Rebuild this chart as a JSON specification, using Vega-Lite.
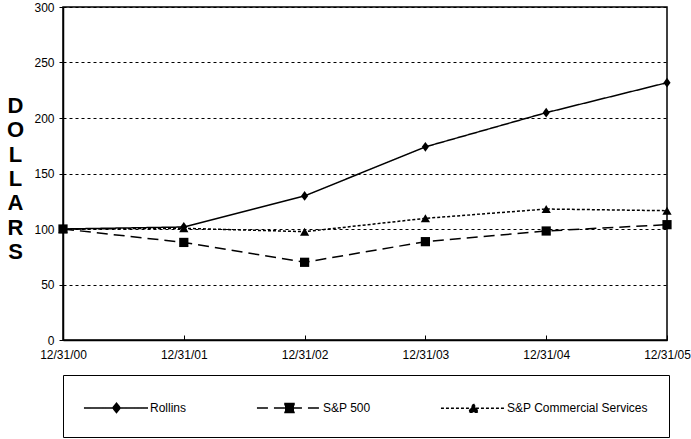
{
  "$schema": "https://vega.github.io/schema/vega-lite/v6.json",
  "width": 604,
  "height": 333,
  "autosize": "none",
  "padding": {"left": 63, "top": 7, "right": 24, "bottom": 99},
  "background": "white",
  "config": {
    "font": "Liberation Sans",
    "view": {"stroke": "black", "strokeWidth": 1.5},
    "axis": {
      "labelFont": "Liberation Sans",
      "labelFontSize": 12,
      "labelColor": "black",
      "domainColor": "black",
      "domainWidth": 1.5,
      "tickColor": "black",
      "tickWidth": 1
    }
  },
  "data": {
    "values": [
      {"date": "12/31/00", "series": "Rollins", "value": 100},
      {"date": "12/31/01", "series": "Rollins", "value": 101.8},
      {"date": "12/31/02", "series": "Rollins", "value": 129.8},
      {"date": "12/31/03", "series": "Rollins", "value": 174},
      {"date": "12/31/04", "series": "Rollins", "value": 204.8},
      {"date": "12/31/05", "series": "Rollins", "value": 231.8},
      {"date": "12/31/00", "series": "S&P 500", "value": 100},
      {"date": "12/31/01", "series": "S&P 500", "value": 87.9},
      {"date": "12/31/02", "series": "S&P 500", "value": 70},
      {"date": "12/31/03", "series": "S&P 500", "value": 88.6},
      {"date": "12/31/04", "series": "S&P 500", "value": 98.2},
      {"date": "12/31/05", "series": "S&P 500", "value": 103.9},
      {"date": "12/31/00", "series": "S&P Commercial Services", "value": 100},
      {"date": "12/31/01", "series": "S&P Commercial Services", "value": 100.6},
      {"date": "12/31/02", "series": "S&P Commercial Services", "value": 97.6},
      {"date": "12/31/03", "series": "S&P Commercial Services", "value": 109.6},
      {"date": "12/31/04", "series": "S&P Commercial Services", "value": 118},
      {"date": "12/31/05", "series": "S&P Commercial Services", "value": 116.5}
    ]
  },
  "encoding": {
    "x": {
      "field": "date",
      "type": "ordinal",
      "sort": null,
      "scale": {"type": "point", "padding": 0},
      "axis": {"title": null, "labelAngle": 0, "grid": false, "tickSize": -5, "labelPadding": 14}
    },
    "y": {
      "field": "value",
      "type": "quantitative",
      "scale": {"domain": [0, 300], "nice": false},
      "axis": {
        "values": [0, 50, 100, 150, 200, 250, 300],
        "tickSize": 4,
        "labelPadding": 5,
        "grid": true,
        "gridColor": "black",
        "gridDash": [3, 3],
        "gridWidth": 1,
        "gridOpacity": 1,
        "title": ["D", "O", "L", "L", "A", "R", "S"],
        "titleAngle": 0,
        "titleFont": "Liberation Sans",
        "titleFontSize": 22,
        "titleFontWeight": "bold",
        "titleColor": "black",
        "titleLineHeight": 24.3,
        "titleAlign": "center",
        "titleBaseline": "middle",
        "titleX": -48,
        "titleY": 98.5
      }
    }
  },
  "layer": [
    {
      "mark": {"type": "line", "color": "black", "strokeWidth": 1.5},
      "encoding": {
        "strokeDash": {
          "field": "series",
          "type": "nominal",
          "scale": {
            "domain": ["Rollins", "S&P 500", "S&P Commercial Services"],
            "range": [[1, 0], [11, 6], [3, 2]]
          },
          "legend": {
            "orient": "none",
            "legendX": 0,
            "legendY": 368,
            "direction": "horizontal",
            "columns": 3,
            "title": null,
            "strokeColor": "black",
            "fillColor": "white",
            "padding": 21,
            "columnPadding": 66,
            "gridAlign": "each",
            "labelFont": "Liberation Sans",
            "labelFontSize": 12,
            "labelColor": "black",
            "labelOffset": 43,
            "labelLimit": 300,
            "symbolSize": 441,
            "symbolStrokeWidth": 1.5,
            "symbolStrokeColor": "black",
            "symbolFillColor": "black",
            "encode": {
              "symbols": {
                "update": {
                  "shape": {"signal": "datum.value === 'Rollins' ? 'M-1.1,0 L5,0 M2,-0.45 L2.35,0 L2,0.45 L1.65,0 Z' : datum.value === 'S&P 500' ? 'M-1.1,0 L5,0 M1.57,-0.43 L2.43,-0.43 L2.43,0.43 L1.57,0.43 Z' : 'M-1.1,0 L5,0 M2,-0.42 L2.45,0.36 L1.55,0.36 Z'"},
                  "fill": {"value": "black"},
                  "stroke": {"value": "black"},
                  "opacity": {"value": 1}
                }
              }
            }
          }
        }
      }
    },
    {
      "transform": [{"filter": "datum.series === 'Rollins'"}],
      "mark": {"type": "point", "filled": true, "color": "black", "opacity": 1, "shape": "M0,-1.1 L0.8,0 L0,1.1 L-0.8,0 Z", "size": 80}
    },
    {
      "transform": [{"filter": "datum.series === 'S&P 500'"}],
      "mark": {"type": "point", "filled": true, "color": "black", "opacity": 1, "shape": "square", "size": 85}
    },
    {
      "transform": [{"filter": "datum.series === 'S&P Commercial Services'"}],
      "mark": {"type": "point", "filled": true, "color": "black", "opacity": 1, "shape": "triangle-up", "size": 85}
    }
  ]
}
